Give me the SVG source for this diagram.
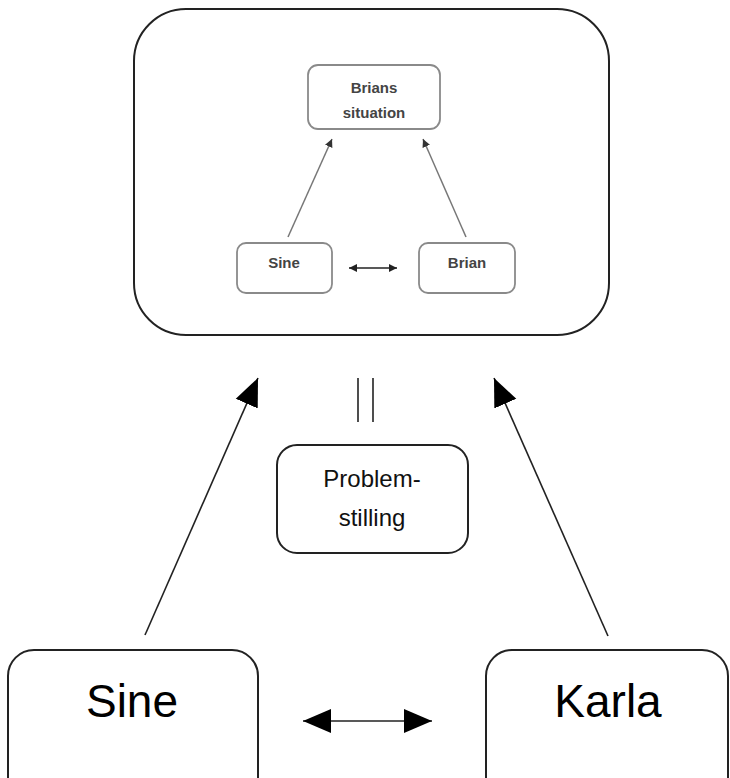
<svg xmlns="http://www.w3.org/2000/svg" width="730" height="778" viewBox="0 0 730 778">
<defs>
<style>
.big{fill:none;stroke:#222;stroke-width:2}
.inner{fill:#fff;stroke:#8a8a8a;stroke-width:1.8}
.itxt{font-family:"Liberation Sans",Arial,sans-serif;font-size:15px;font-weight:bold;fill:#444;text-anchor:middle}
.btxt{font-family:"Liberation Sans",Arial,sans-serif;font-size:46px;fill:#000;text-anchor:middle}
.ptxt{font-family:"Liberation Sans",Arial,sans-serif;font-size:24px;fill:#111;text-anchor:middle}
.bigline{stroke:#222;stroke-width:1.6;fill:none}
.smallline{stroke:#777;stroke-width:1.5;fill:none}
</style>
<marker id="bigHead" markerUnits="userSpaceOnUse" markerWidth="30" markerHeight="26" refX="28" refY="12" orient="auto-start-reverse" viewBox="0 0 30 24">
<path d="M0,0 L28,12 L0,24 Z" fill="#000"/>
</marker>
<marker id="smallHead" markerUnits="userSpaceOnUse" markerWidth="9" markerHeight="9" refX="8" refY="4" orient="auto-start-reverse" viewBox="0 0 9 8">
<path d="M0,0 L8,4 L0,8 Z" fill="#222"/>
</marker>
<marker id="smallHeadG" markerUnits="userSpaceOnUse" markerWidth="9" markerHeight="9" refX="8" refY="4" orient="auto" viewBox="0 0 9 8">
<path d="M0,0 L8,4 L0,8 Z" fill="#333"/>
</marker>
</defs>
<rect width="730" height="778" fill="#fff"/>

<g id="situation-frame">
<rect class="big" x="134" y="9" width="475" height="326" rx="52" ry="52"/>
</g>

<g id="brians-situation">
<rect class="inner" x="308" y="65" width="132" height="64" rx="10" ry="10"/>
<text class="itxt" x="374" y="93">Brians</text>
<text class="itxt" x="374" y="118">situation</text>
</g>

<g id="inner-sine">
<rect class="inner" x="237" y="243" width="95" height="50" rx="9" ry="9"/>
<text class="itxt" x="284" y="268">Sine</text>
</g>

<g id="inner-brian">
<rect class="inner" x="419" y="243" width="96" height="50" rx="9" ry="9"/>
<text class="itxt" x="467" y="268">Brian</text>
</g>

<g id="problemstilling">
<rect class="big" x="277" y="445" width="191" height="108" rx="20" ry="20"/>
<text class="ptxt" x="372" y="487">Problem-</text>
<text class="ptxt" x="372" y="526">stilling</text>
</g>

<g id="sine">
<rect class="big" x="8" y="650" width="250" height="160" rx="26" ry="26"/>
<text class="btxt" x="132" y="717">Sine</text>
</g>

<g id="karla">
<rect class="big" x="486" y="650" width="242" height="160" rx="26" ry="26"/>
<text class="btxt" x="608" y="717">Karla</text>
</g>

<g id="connectors">
<line class="smallline" x1="288" y1="237" x2="332" y2="139" marker-end="url(#smallHeadG)"/>
<line class="smallline" x1="466" y1="237" x2="423" y2="139" marker-end="url(#smallHeadG)"/>
<line stroke="#222" stroke-width="1.4" x1="349" y1="268" x2="397" y2="268" marker-start="url(#smallHead)" marker-end="url(#smallHead)"/>
<line class="bigline" x1="358" y1="378" x2="358" y2="422"/>
<line class="bigline" x1="373" y1="378" x2="373" y2="422"/>
<line class="bigline" x1="145" y1="635" x2="258" y2="378" marker-end="url(#bigHead)"/>
<line class="bigline" x1="608" y1="636" x2="494" y2="378" marker-end="url(#bigHead)"/>
<line class="bigline" x1="303" y1="721" x2="432" y2="721" marker-start="url(#bigHead)" marker-end="url(#bigHead)"/>
</g>
</svg>
